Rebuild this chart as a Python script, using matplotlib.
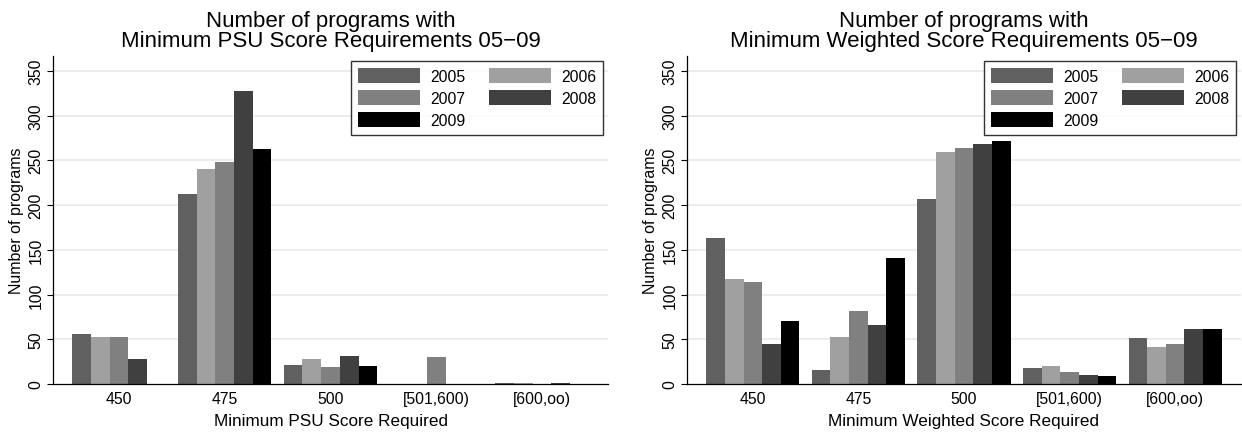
import matplotlib
matplotlib.use("Agg")
import matplotlib.pyplot as plt
import numpy as np

plt.rcParams['font.family'] = ['Liberation Sans', 'DejaVu Sans']

categories = ["450", "475", "500", "[501,600)", "[600,oo)"]
years = ["2005", "2006", "2007", "2008", "2009"]

psu_2005 = [56, 212, 21, 0, 1]
psu_2006 = [52, 240, 28, 0, 1]
psu_2007 = [53, 248, 19, 30, 0]
psu_2008 = [28, 327, 31, 0, 1]
psu_2009 = [0, 263, 20, 0, 0]

wtd_2005 = [163, 16, 207, 18, 51]
wtd_2006 = [117, 52, 259, 20, 41]
wtd_2007 = [114, 82, 264, 13, 45]
wtd_2008 = [45, 66, 268, 10, 62]
wtd_2009 = [70, 141, 272, 9, 62]

colors = ["#606060", "#a0a0a0", "#808080", "#404040", "#000000"]

W, H = 1242, 435
fig = plt.figure(figsize=(W / 100, H / 100), dpi=100)
fig.patch.set_facecolor("white")


def panel(rect, series, title, xlabel):
    ax = fig.add_axes(rect)
    x = np.arange(len(categories))
    bw = 0.1766
    handles = []
    for i, (vals, c, yr) in enumerate(zip(series, colors, years)):
        b = ax.bar(x + (i - 2) * bw, vals, width=bw, color=c, linewidth=0,
                   label=yr, zorder=3)
        handles.append(b)
    ax.set_xlim(-0.624, len(categories) - 1 + 0.624)
    ax.set_ylim(0, 367)
    ax.set_yticks(np.arange(0, 351, 50))
    ax.set_xticks(x)
    ax.set_xticklabels(categories, fontsize=11.3)
    ax.tick_params(axis='x', length=0, pad=5)
    ax.tick_params(axis='y', length=4, width=0.8, pad=3, labelsize=11.3)
    for lab in ax.get_yticklabels():
        lab.set_rotation(90)
        lab.set_va('center')
    for yv in range(50, 351, 50):
        ax.axhline(yv, color="#eaeaea", linewidth=1.2, zorder=1)
    for s in ["top", "right"]:
        ax.spines[s].set_visible(False)
    for s in ["left", "bottom"]:
        ax.spines[s].set_linewidth(0.9)
        ax.spines[s].set_zorder(4)
    ax.set_ylabel("Number of programs", fontsize=11.5, labelpad=3)
    ax.set_xlabel(xlabel, fontsize=12.3, labelpad=5)
    ax.set_title(title, fontsize=16, linespacing=0.93, pad=7)
    # row-major legend order: 2005 2006 / 2007 2008 / 2009
    order = [0, 2, 4, 1, 3]
    leg = ax.legend([handles[k] for k in order], [years[k] for k in order],
                    ncol=2, loc="upper right", bbox_to_anchor=(0.991, 0.984),
                    borderaxespad=0, fontsize=11.3, frameon=True, fancybox=False,
                    edgecolor="black", handlelength=4.0, handleheight=1.1,
                    labelspacing=0.4, handletextpad=0.6, columnspacing=1.5,
                    borderpad=0.45)
    leg.get_frame().set_linewidth(1.0)
    leg.set_zorder(5)
    return ax


panel([53 / W, 50 / H, 555 / W, 328.3 / H],
      [psu_2005, psu_2006, psu_2007, psu_2008, psu_2009],
      "Number of programs with\nMinimum PSU Score Requirements 05\u221209",
      "Minimum PSU Score Required")
panel([687 / W, 50 / H, 554 / W, 328.3 / H],
      [wtd_2005, wtd_2006, wtd_2007, wtd_2008, wtd_2009],
      "Number of programs with\nMinimum Weighted Score Requirements 05\u221209",
      "Minimum Weighted Score Required")

fig.savefig("out.png", dpi=100, facecolor="white")
